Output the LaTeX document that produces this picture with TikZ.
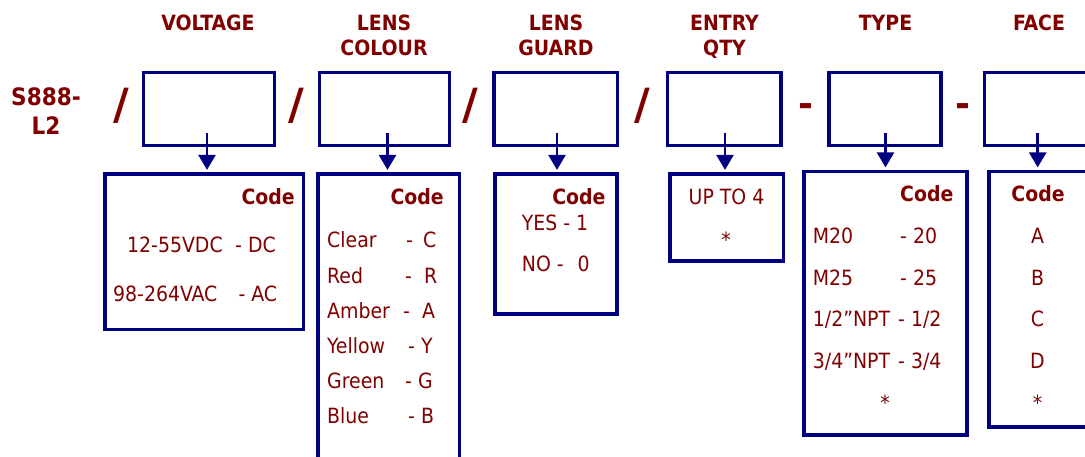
\documentclass[tikz,border=0pt]{standalone}
\usepackage{fontspec}
\setmainfont{DejaVu Sans Condensed}
\newfontfamily\sepfont{DejaVu Sans}
\usetikzlibrary{arrows.meta}
\definecolor{maroonc}{RGB}{128,0,0}
\definecolor{navyc}{RGB}{0,0,128}
\tikzset{
  box/.style={draw=navyc, line width=3.2pt, inner sep=0pt, rectangle},
  conn/.style={draw=navyc, line width=2.5pt, -{Triangle[width=17pt,length=15pt]}, shorten >=2.5pt},
  txt/.style={text=maroonc, inner sep=0pt, font=\fontsize{21}{25}\selectfont},
  btxt/.style={text=maroonc, inner sep=0pt, font=\fontsize{21}{25}\selectfont\bfseries},
  hdr/.style={btxt, align=center, anchor=base},
  sep/.style={text=maroonc, inner sep=0pt, anchor=base, font=\fontsize{43}{43}\sepfont\bfseries},
  dsh/.style={text=maroonc, inner sep=0pt, anchor=base, font=\fontsize{36}{36}\sepfont\bfseries}
}
\begin{document}
\begin{tikzpicture}[x=1pt,y=-1pt]
\useasboundingbox (0,0) rectangle (1085,456);
\clip (0,0) rectangle (1085,456);
% prefix
\node[btxt, align=center, anchor=base, font=\fontsize{24}{29.3}\selectfont\bfseries] (pre) at (46,134.3) {S888-\\L2};
% headers
\node[hdr] (h1) at (208,30.7) {VOLTAGE};
\node[hdr] (h2) at (384,55.7) {LENS\\COLOUR};
\node[hdr] (h3) at (556,55.7) {LENS\\GUARD};
\node[hdr] (h4) at (724.5,55.7) {ENTRY\\QTY};
\node[hdr] (h5) at (885.5,30.7) {TYPE};
\node[hdr] (h6) at (1039,30.7) {FACE};
% separators
\node[sep] (s1) at (121,119.3) {/};
\node[sep] (s2) at (296,119.3) {/};
\node[sep] (s3) at (470.5,119.3) {/};
\node[sep] (s4) at (642.3,119.3) {/};
\node[dsh] (d1) at (805.5,116.5) {-};
\node[dsh] (d2) at (963,116.5) {-};
% top boxes
\node[box, minimum width=131pt, minimum height=73pt] (t1) at (209,109) {};
\node[box, minimum width=130pt, minimum height=73pt] (t2) at (384.5,109) {};
\node[box, minimum width=123.5pt, minimum height=73pt] (t3) at (555.75,109) {};
\node[box, minimum width=113.5pt, minimum height=73pt] (t4) at (724.25,109) {};
\node[box, minimum width=112pt, minimum height=73pt] (t5) at (885,109) {};
\node[box, minimum width=125pt, minimum height=73pt] (t6) at (1047,109) {};
% bottom boxes
\node[box, minimum width=198.5pt, minimum height=155.5pt] (b1) at (204.25,251.75) {};
\node[box, minimum width=141.5pt, minimum height=306pt] (b2) at (388.75,327) {};
\node[box, minimum width=122pt, minimum height=140pt] (b3) at (556,244) {};
\node[box, minimum width=113.5pt, minimum height=87pt] (b4) at (726.75,217.5) {};
\node[box, minimum width=163pt, minimum height=263.5pt] (b5) at (885.5,303.25) {};
\node[box, minimum width=121pt, minimum height=255.5pt] (b6) at (1049.5,299.25) {};
% arrows
\coordinate (a1) at (207,133);
\coordinate (a2) at (387.5,133);
\coordinate (a3) at (557,133);
\coordinate (a4) at (725,133);
\coordinate (a5) at (885.5,133);
\coordinate (a6) at (1037.7,133);
\draw[conn] (a1) -- (a1 |- b1.north);
\draw[conn] (a2) -- (a2 |- b2.north);
\draw[conn] (a3) -- (a3 |- b3.north);
\draw[conn] (a4) -- (a4 |- b4.north);
\draw[conn] (a5) -- (a5 |- b5.north);
\draw[conn] (a6) -- (a6 |- b6.north);
% box 1
\node[btxt, anchor=base east] (c1) at (295,204.3) {Code};
\node[txt, anchor=base west] (v1) at (127,252) {12-55VDC};
\node[txt, anchor=base west] (v1c) at (235,252) {- DC};
\node[txt, anchor=base west] (v2) at (113,301) {98-264VAC};
\node[txt, anchor=base west] (v2c) at (238.3,301) {- AC};
% box 2
\node[btxt, anchor=base east] (c2) at (444,204.3) {Code};
\node[txt, anchor=base west] (l1) at (327,247.3) {Clear};
\node[txt, anchor=base west] (l1c) at (406,247.3) {-\hspace{10pt}C};
\node[txt, anchor=base west] (l2) at (327,283.3) {Red};
\node[txt, anchor=base west] (l2c) at (405,283.3) {-\hspace{12pt}R};
\node[txt, anchor=base west] (l3) at (327,318.3) {Amber};
\node[txt, anchor=base west] (l3c) at (403,318.3) {-\hspace{12pt}A};
\node[txt, anchor=base west] (l4) at (327,353.3) {Yellow};
\node[txt, anchor=base west] (l4c) at (408,353.3) {- Y};
\node[txt, anchor=base west] (l5) at (327,388.3) {Green};
\node[txt, anchor=base west] (l5c) at (405,388.3) {- G};
\node[txt, anchor=base west] (l6) at (327,423.3) {Blue};
\node[txt, anchor=base west] (l6c) at (408,423.3) {- B};
% box 3
\node[btxt, anchor=base east] (c3) at (605.7,204.3) {Code};
\node[txt, anchor=base west] (g1) at (521.7,230) {YES - 1};
\node[txt, anchor=base west] (g2) at (521.7,271.7) {NO -\hspace{14pt}0};
% box 4
\node[txt, anchor=base] (e1) at (726.5,204.3) {UP TO 4};
\node[txt, anchor=base] (e2) at (726,247) {*};
% box 5
\node[btxt, anchor=base west] (c5) at (900,201.7) {Code};
\node[txt, anchor=base west] (p1) at (812.7,243.3) {M20};
\node[txt, anchor=base west] (p1c) at (900,243.3) {- 20};
\node[txt, anchor=base west] (p2) at (812.7,285) {M25};
\node[txt, anchor=base west] (p2c) at (900,285) {- 25};
\node[txt, anchor=base west] (p3) at (812.7,326.7) {1/2”NPT};
\node[txt, anchor=base west] (p3c) at (898,326.7) {- 1/2};
\node[txt, anchor=base west] (p4) at (812.7,368.3) {3/4”NPT};
\node[txt, anchor=base west] (p4c) at (898,368.3) {- 3/4};
\node[txt, anchor=base] (p5) at (885,410) {*};
% box 6
\node[btxt, anchor=base] (c6) at (1038,201.7) {Code};
\node[txt, anchor=base] (f1) at (1037.5,243.3) {A};
\node[txt, anchor=base] (f2) at (1037.5,285) {B};
\node[txt, anchor=base] (f3) at (1037.5,326.7) {C};
\node[txt, anchor=base] (f4) at (1037.5,368.3) {D};
\node[txt, anchor=base] (f5) at (1037.5,410) {*};
\end{tikzpicture}
\end{document}
